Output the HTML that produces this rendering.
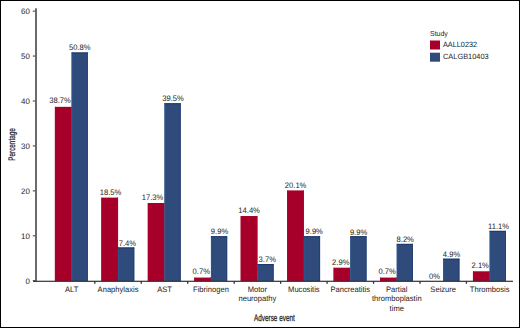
<!DOCTYPE html><html><head><meta charset="utf-8"><style>html,body{margin:0;padding:0;background:#fff}body{width:520px;height:328px;overflow:hidden}svg{display:block}text{font-family:"Liberation Sans",sans-serif;text-rendering:geometricPrecision}</style></head><body>
<svg width="520" height="328" viewBox="0 0 520 328">
<rect x="0" y="0" width="520" height="328" fill="#fff"/>
<rect x="54.90" y="106.84" width="16.70" height="174.41" fill="#A6002A"/>
<rect x="54.90" y="106.84" width="0.9" height="174.41" fill="#B1002D"/>
<rect x="70.70" y="106.84" width="0.9" height="174.41" fill="#B1002D"/>
<rect x="71.60" y="52.48" width="16.22" height="228.77" fill="#2E4B7C"/>
<rect x="71.60" y="52.48" width="1" height="228.77" fill="#2D5487"/>
<rect x="71.60" y="52.48" width="16.22" height="1" fill="#1E3870"/>
<rect x="86.92" y="52.48" width="0.9" height="228.77" fill="#243F72"/>
<rect x="101.35" y="197.60" width="16.70" height="83.65" fill="#A6002A"/>
<rect x="101.35" y="197.60" width="0.9" height="83.65" fill="#B1002D"/>
<rect x="117.15" y="197.60" width="0.9" height="83.65" fill="#B1002D"/>
<rect x="118.05" y="247.47" width="16.22" height="33.78" fill="#2E4B7C"/>
<rect x="118.05" y="247.47" width="1" height="33.78" fill="#2D5487"/>
<rect x="118.05" y="247.47" width="16.22" height="1" fill="#1E3870"/>
<rect x="133.37" y="247.47" width="0.9" height="33.78" fill="#243F72"/>
<rect x="147.80" y="202.99" width="16.70" height="78.26" fill="#A6002A"/>
<rect x="147.80" y="202.99" width="0.9" height="78.26" fill="#B1002D"/>
<rect x="163.60" y="202.99" width="0.9" height="78.26" fill="#B1002D"/>
<rect x="164.50" y="103.25" width="16.22" height="178.00" fill="#2E4B7C"/>
<rect x="164.50" y="103.25" width="1" height="178.00" fill="#2D5487"/>
<rect x="164.50" y="103.25" width="16.22" height="1" fill="#1E3870"/>
<rect x="179.82" y="103.25" width="0.9" height="178.00" fill="#243F72"/>
<rect x="194.25" y="277.57" width="16.70" height="3.68" fill="#A6002A"/>
<rect x="194.25" y="277.57" width="0.9" height="3.68" fill="#B1002D"/>
<rect x="210.05" y="277.57" width="0.9" height="3.68" fill="#B1002D"/>
<rect x="210.95" y="236.24" width="16.22" height="45.01" fill="#2E4B7C"/>
<rect x="210.95" y="236.24" width="1" height="45.01" fill="#2D5487"/>
<rect x="210.95" y="236.24" width="16.22" height="1" fill="#1E3870"/>
<rect x="226.27" y="236.24" width="0.9" height="45.01" fill="#243F72"/>
<rect x="240.70" y="216.02" width="16.70" height="65.23" fill="#A6002A"/>
<rect x="240.70" y="216.02" width="0.9" height="65.23" fill="#B1002D"/>
<rect x="256.50" y="216.02" width="0.9" height="65.23" fill="#B1002D"/>
<rect x="257.40" y="264.10" width="16.22" height="17.15" fill="#2E4B7C"/>
<rect x="257.40" y="264.10" width="1" height="17.15" fill="#2D5487"/>
<rect x="257.40" y="264.10" width="16.22" height="1" fill="#1E3870"/>
<rect x="272.72" y="264.10" width="0.9" height="17.15" fill="#243F72"/>
<rect x="287.15" y="190.41" width="16.70" height="90.84" fill="#A6002A"/>
<rect x="287.15" y="190.41" width="0.9" height="90.84" fill="#B1002D"/>
<rect x="302.95" y="190.41" width="0.9" height="90.84" fill="#B1002D"/>
<rect x="303.85" y="236.24" width="16.22" height="45.01" fill="#2E4B7C"/>
<rect x="303.85" y="236.24" width="1" height="45.01" fill="#2D5487"/>
<rect x="303.85" y="236.24" width="16.22" height="1" fill="#1E3870"/>
<rect x="319.17" y="236.24" width="0.9" height="45.01" fill="#243F72"/>
<rect x="333.60" y="267.69" width="16.70" height="13.56" fill="#A6002A"/>
<rect x="333.60" y="267.69" width="0.9" height="13.56" fill="#B1002D"/>
<rect x="349.40" y="267.69" width="0.9" height="13.56" fill="#B1002D"/>
<rect x="350.30" y="236.24" width="16.22" height="45.01" fill="#2E4B7C"/>
<rect x="350.30" y="236.24" width="1" height="45.01" fill="#2D5487"/>
<rect x="350.30" y="236.24" width="16.22" height="1" fill="#1E3870"/>
<rect x="365.62" y="236.24" width="0.9" height="45.01" fill="#243F72"/>
<rect x="380.05" y="277.57" width="16.70" height="3.68" fill="#A6002A"/>
<rect x="380.05" y="277.57" width="0.9" height="3.68" fill="#B1002D"/>
<rect x="395.85" y="277.57" width="0.9" height="3.68" fill="#B1002D"/>
<rect x="396.75" y="243.88" width="16.22" height="37.37" fill="#2E4B7C"/>
<rect x="396.75" y="243.88" width="1" height="37.37" fill="#2D5487"/>
<rect x="396.75" y="243.88" width="16.22" height="1" fill="#1E3870"/>
<rect x="412.07" y="243.88" width="0.9" height="37.37" fill="#243F72"/>
<rect x="443.20" y="258.70" width="16.22" height="22.55" fill="#2E4B7C"/>
<rect x="443.20" y="258.70" width="1" height="22.55" fill="#2D5487"/>
<rect x="443.20" y="258.70" width="16.22" height="1" fill="#1E3870"/>
<rect x="458.52" y="258.70" width="0.9" height="22.55" fill="#243F72"/>
<rect x="472.95" y="271.28" width="16.70" height="9.97" fill="#A6002A"/>
<rect x="472.95" y="271.28" width="0.9" height="9.97" fill="#B1002D"/>
<rect x="488.75" y="271.28" width="0.9" height="9.97" fill="#B1002D"/>
<rect x="489.65" y="230.85" width="16.22" height="50.40" fill="#2E4B7C"/>
<rect x="489.65" y="230.85" width="1" height="50.40" fill="#2D5487"/>
<rect x="489.65" y="230.85" width="16.22" height="1" fill="#1E3870"/>
<rect x="504.97" y="230.85" width="0.9" height="50.40" fill="#243F72"/>
<g fill="#222" stroke="#222" stroke-width="0.00">
<text transform="translate(59.95,103.40) scale(0.950,1)" font-size="8.00" text-anchor="middle">38.7%</text>
<text transform="translate(79.70,49.80) scale(0.950,1)" font-size="8.00" text-anchor="middle">50.8%</text>
<text transform="translate(110.45,194.90) scale(0.950,1)" font-size="8.00" text-anchor="middle">18.5%</text>
<text transform="translate(127.35,245.70) scale(0.950,1)" font-size="8.00" text-anchor="middle">7.4%</text>
<text transform="translate(152.50,200.00) scale(0.950,1)" font-size="8.00" text-anchor="middle">17.3%</text>
<text transform="translate(173.05,100.80) scale(0.950,1)" font-size="8.00" text-anchor="middle">39.5%</text>
<text transform="translate(201.25,274.10) scale(0.950,1)" font-size="8.00" text-anchor="middle">0.7%</text>
<text transform="translate(219.50,234.10) scale(0.950,1)" font-size="8.00" text-anchor="middle">9.9%</text>
<text transform="translate(249.10,213.00) scale(0.950,1)" font-size="8.00" text-anchor="middle">14.4%</text>
<text transform="translate(267.25,261.90) scale(0.950,1)" font-size="8.00" text-anchor="middle">3.7%</text>
<text transform="translate(295.60,187.50) scale(0.950,1)" font-size="8.00" text-anchor="middle">20.1%</text>
<text transform="translate(314.20,234.10) scale(0.950,1)" font-size="8.00" text-anchor="middle">9.9%</text>
<text transform="translate(340.75,264.60) scale(0.950,1)" font-size="8.00" text-anchor="middle">2.9%</text>
<text transform="translate(358.55,234.65) scale(0.950,1)" font-size="8.00" text-anchor="middle">9.9%</text>
<text transform="translate(387.15,274.20) scale(0.950,1)" font-size="8.00" text-anchor="middle">0.7%</text>
<text transform="translate(405.20,241.85) scale(0.950,1)" font-size="8.00" text-anchor="middle">8.2%</text>
<text transform="translate(434.45,278.60) scale(0.950,1)" font-size="8.00" text-anchor="middle">0%</text>
<text transform="translate(451.50,256.90) scale(0.950,1)" font-size="8.00" text-anchor="middle">4.9%</text>
<text transform="translate(480.20,268.00) scale(0.950,1)" font-size="8.00" text-anchor="middle">2.1%</text>
<text transform="translate(498.60,228.60) scale(0.950,1)" font-size="8.00" text-anchor="middle">11.1%</text>
</g>
<rect x="35" y="8.3" width="2" height="273.5" fill="#6b6b6b"/>
<g fill="#222" stroke="#222" stroke-width="0.00">
<text transform="translate(29.80,283.57) scale(1.000,1)" font-size="7.90" text-anchor="end">0</text>
<text transform="translate(29.80,238.64) scale(1.000,1)" font-size="7.90" text-anchor="end">10</text>
<text transform="translate(29.80,193.71) scale(1.000,1)" font-size="7.90" text-anchor="end">20</text>
<text transform="translate(29.80,148.78) scale(1.000,1)" font-size="7.90" text-anchor="end">30</text>
<text transform="translate(29.80,103.85) scale(1.000,1)" font-size="7.90" text-anchor="end">40</text>
<text transform="translate(29.80,58.92) scale(1.000,1)" font-size="7.90" text-anchor="end">50</text>
<text transform="translate(29.80,13.99) scale(1.000,1)" font-size="7.90" text-anchor="end">60</text>
</g>
<rect x="32.8" y="280.12" width="2.5" height="1.2" fill="#555"/>
<rect x="32.8" y="235.19" width="2.5" height="1.2" fill="#555"/>
<rect x="32.8" y="190.26" width="2.5" height="1.2" fill="#555"/>
<rect x="32.8" y="145.33" width="2.5" height="1.2" fill="#555"/>
<rect x="32.8" y="100.40" width="2.5" height="1.2" fill="#555"/>
<rect x="32.8" y="55.47" width="2.5" height="1.2" fill="#555"/>
<rect x="32.8" y="10.54" width="2.5" height="1.2" fill="#555"/>
<rect x="33" y="280.7" width="480" height="1.2" fill="#333"/>
<rect x="94.17" y="281" width="1.3" height="2.8" fill="#333"/>
<rect x="140.62" y="281" width="1.3" height="2.8" fill="#333"/>
<rect x="187.07" y="281" width="1.3" height="2.8" fill="#333"/>
<rect x="233.53" y="281" width="1.3" height="2.8" fill="#333"/>
<rect x="279.98" y="281" width="1.3" height="2.8" fill="#333"/>
<rect x="326.43" y="281" width="1.3" height="2.8" fill="#333"/>
<rect x="372.88" y="281" width="1.3" height="2.8" fill="#333"/>
<rect x="419.33" y="281" width="1.3" height="2.8" fill="#333"/>
<rect x="465.78" y="281" width="1.3" height="2.8" fill="#333"/>
<g fill="#222" stroke="#222" stroke-width="0.00">
<text transform="translate(71.60,291.60) scale(0.960,1)" font-size="7.90" text-anchor="middle">ALT</text>
<text transform="translate(118.05,291.60) scale(0.960,1)" font-size="7.90" text-anchor="middle">Anaphylaxis</text>
<text transform="translate(164.50,291.60) scale(0.960,1)" font-size="7.90" text-anchor="middle">AST</text>
<text transform="translate(210.95,291.60) scale(0.960,1)" font-size="7.90" text-anchor="middle">Fibrinogen</text>
<text transform="translate(257.40,291.60) scale(0.960,1)" font-size="7.90" text-anchor="middle">Motor</text>
<text transform="translate(257.40,301.20) scale(0.960,1)" font-size="7.90" text-anchor="middle">neuropathy</text>
<text transform="translate(303.85,291.60) scale(0.960,1)" font-size="7.90" text-anchor="middle">Mucositis</text>
<text transform="translate(350.30,291.60) scale(0.960,1)" font-size="7.90" text-anchor="middle">Pancreatitis</text>
<text transform="translate(396.75,291.60) scale(0.960,1)" font-size="7.90" text-anchor="middle">Partial</text>
<text transform="translate(396.75,301.20) scale(0.960,1)" font-size="7.90" text-anchor="middle">thromboplastin</text>
<text transform="translate(396.75,310.80) scale(0.960,1)" font-size="7.90" text-anchor="middle">time</text>
<text transform="translate(443.20,291.60) scale(0.960,1)" font-size="7.90" text-anchor="middle">Seizure</text>
<text transform="translate(489.65,291.60) scale(0.960,1)" font-size="7.90" text-anchor="middle">Thrombosis</text>
</g>
<text x="0" y="0" font-size="9.5" fill="#222" stroke="#222" stroke-width="0.25" text-anchor="middle" transform="translate(274.4,320.75) scale(0.67,1)">Adverse event</text>
<text x="0" y="0" font-size="9.5" fill="#222" stroke="#222" stroke-width="0.25" text-anchor="middle" transform="translate(15,144.5) rotate(-90) scale(0.67,1)">Percentage</text>
<g fill="#222" stroke="#222" stroke-width="0.00">
<text transform="translate(430.00,35.50) scale(0.970,1)" font-size="7.20" text-anchor="start">Study</text>
<text transform="translate(443.00,47.20) scale(0.960,1)" font-size="7.60" text-anchor="start">AALL0232</text>
<text transform="translate(443.00,59.40) scale(0.975,1)" font-size="7.60" text-anchor="start">CALGB10403</text>
</g>
<rect x="430" y="40.5" width="10" height="9" fill="#A6002A"/>
<rect x="430" y="52.7" width="10" height="9" fill="#2E4B7C"/>
<rect x="0.5" y="0.5" width="519" height="327" fill="none" stroke="#000" stroke-width="1"/>
</svg></body></html>
